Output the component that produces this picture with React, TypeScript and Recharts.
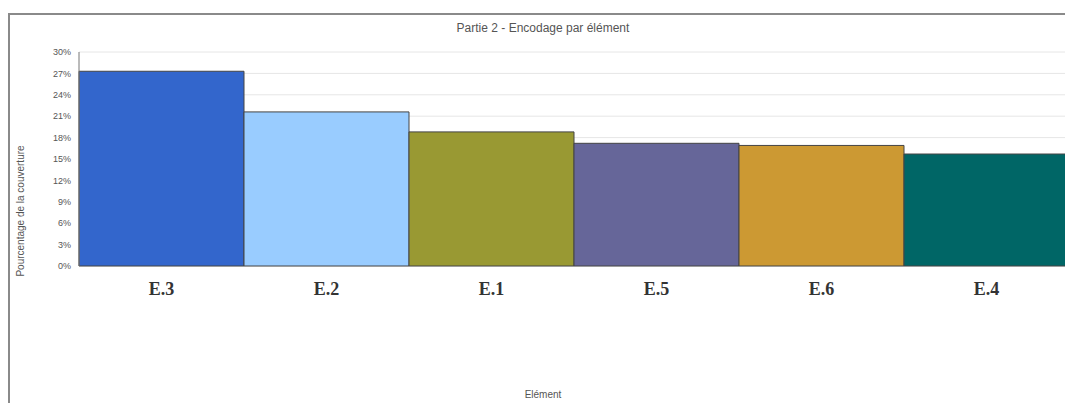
import React from 'react';
import {
  BarChart,
  Bar,
  Cell,
  XAxis,
  YAxis,
  CartesianGrid,
} from 'recharts';

const ELEMENTS = ['E.3', 'E.2', 'E.1', 'E.5', 'E.6', 'E.4'];
const COVERAGE = [27.3, 21.6, 18.8, 17.2, 16.9, 15.7];
const BAR_COLORS = ['#3366CC', '#99CCFF', '#999933', '#666699', '#CC9933', '#006666'];
const Y_TICKS = [0, 3, 6, 9, 12, 15, 18, 21, 24, 27, 30];

const TITLE = 'Partie 2 - Encodage par élément';
const Y_LABEL = 'Pourcentage de la couverture';
const X_LABEL = 'Elément';

const data = ELEMENTS.map((name, i) => ({ name, value: COVERAGE[i] }));

const App: React.FC = () => (
  <div
    style={{
      position: 'absolute',
      left: 0,
      top: 0,
      width: 1065,
      height: 403,
      overflow: 'hidden',
      background: '#fff',
      fontFamily: 'Arial, "Liberation Sans", sans-serif',
    }}
  >
    {/* report frame */}
    <div
      style={{
        position: 'absolute',
        left: 8,
        top: 13,
        width: 1100,
        height: 388,
        borderTop: '2px solid #8a8a8a',
        borderLeft: '2px solid #8a8a8a',
        borderBottom: '1px solid #e4e4e4',
      }}
    />
    <div
      style={{
        position: 'absolute',
        left: 0,
        width: 1086,
        top: 21,
        textAlign: 'center',
        fontSize: 12,
        color: '#555',
      }}
    >
      {TITLE}
    </div>
    <div
      style={{
        position: 'absolute',
        left: 20,
        top: 211,
        transform: 'translate(-50%, -50%) rotate(-90deg)',
        whiteSpace: 'nowrap',
        fontSize: 10,
        color: '#555',
      }}
    >
      {Y_LABEL}
    </div>
    <div
      style={{
        position: 'absolute',
        left: 0,
        width: 1086,
        top: 389,
        textAlign: 'center',
        fontSize: 10,
        color: '#555',
      }}
    >
      {X_LABEL}
    </div>
    <div style={{ position: 'absolute', left: 0, top: 0 }}>
      <BarChart
        width={1075}
        height={403}
        data={data}
        margin={{ top: 52, right: 6, left: 0, bottom: 0 }}
        barCategoryGap={0}
      >
        <CartesianGrid vertical={false} stroke="#e6e6e6" />
        <XAxis
          dataKey="name"
          height={137}
          axisLine={false}
          tickLine={false}
          tickMargin={10}
          interval={0}
          tick={{
            fontFamily: '"Liberation Serif", "DejaVu Serif", serif',
            fontWeight: 'bold',
            fontSize: 18,
            fill: '#333',
          }}
        />
        <YAxis
          width={79}
          domain={[0, 30]}
          ticks={Y_TICKS}
          interval={0}
          tickFormatter={(v: number) => `${v}%`}
          axisLine={{ stroke: '#777' }}
          tickLine={false}
          tickMargin={2}
          tick={{ fontSize: 9, fill: '#555' }}
        />
        <Bar dataKey="value" stroke="#444" strokeWidth={1} isAnimationActive={false}>
          {data.map((_, i) => (
            <Cell key={`cell-${i}`} fill={BAR_COLORS[i]} />
          ))}
        </Bar>
      </BarChart>
    </div>
  </div>
);

export default App;
